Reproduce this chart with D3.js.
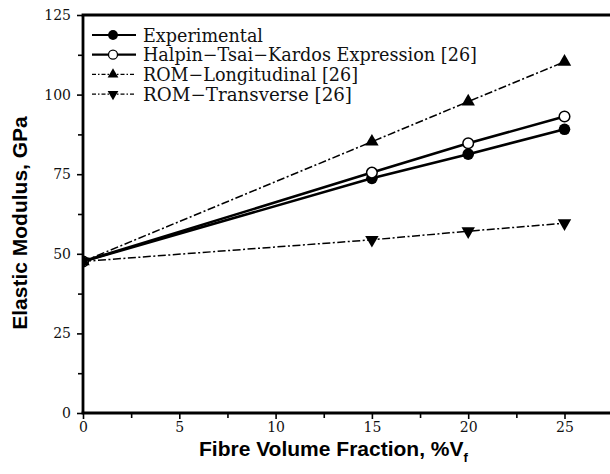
<!DOCTYPE html>
<html>
<head>
<meta charset="utf-8">
<script src="https://cdn.jsdelivr.net/npm/d3@7"></script>
<style>
  html, body { margin: 0; padding: 0; background: #fff; overflow: hidden; }
  svg { display: block; overflow: hidden; }
</style>
</head>
<body>
<svg id="chart" width="610" height="474"></svg>
<script>
// Fibre volume fraction (%Vf)
const fractions = [0, 15, 20, 25];
// Elastic modulus (GPa) for each series
const experimental = [47.6, 73.7, 81.3, 89.1];
const halpinTsai = [47.6, 75.5, 84.7, 93.1];
const romLongitudinal = [47.6, 85.2, 97.8, 110.3];
const romTransverse = [47.6, 54.4, 57.1, 59.6];

const seriesNames = [
  "Experimental",
  "Halpin\u2212Tsai\u2212Kardos Expression [26]",
  "ROM\u2212Longitudinal [26]",
  "ROM\u2212Transverse [26]"
];
const xTicks = [0, 5, 10, 15, 20, 25];
const xMinorTicks = [2.5, 7.5, 12.5, 17.5, 22.5];
const yTicks = [0, 25, 50, 75, 100, 125];
const yMinorTicks = [12.5, 37.5, 62.5, 87.5, 112.5];

const svg = d3.select("#chart");
const plotLeft = 83, plotTop = 15, plotBottom = 413, plotRight = 620;

const x = d3.scaleLinear().domain([0, 25]).range([plotLeft, 564.5]);
const y = d3.scaleLinear().domain([0, 125]).range([plotBottom, plotTop]);

const serif = "'DejaVu Serif', 'Liberation Serif', serif";
const sans = "'Liberation Sans', Arial, sans-serif";

// Markers at x = 0 are cut by the left axis
svg.append("defs").append("clipPath").attr("id", "plotClip")
  .append("rect").attr("x", plotLeft).attr("y", 0)
  .attr("width", 520).attr("height", plotBottom);

// Axes
const gx = svg.append("g").attr("transform", `translate(0,${plotBottom})`)
  .call(d3.axisBottom(x).tickValues(xTicks).tickSize(6).tickPadding(3)
    .tickFormat(d3.format("d")));
gx.select(".domain").remove();
const gxm = svg.append("g").attr("transform", `translate(0,${plotBottom})`)
  .call(d3.axisBottom(x).tickValues(xMinorTicks).tickSize(5).tickFormat(""));
gxm.select(".domain").remove();

const gy = svg.append("g").attr("transform", `translate(${plotLeft},0)`)
  .call(d3.axisLeft(y).tickValues(yTicks).tickSize(6).tickPadding(6)
    .tickFormat(d3.format("d")));
gy.select(".domain").remove();
const gym = svg.append("g").attr("transform", `translate(${plotLeft},0)`)
  .call(d3.axisLeft(y).tickValues(yMinorTicks).tickSize(5).tickFormat(""));
gym.select(".domain").remove();

svg.selectAll(".tick line").attr("stroke", "#000").attr("stroke-width", 1.6);
svg.selectAll(".tick text").attr("font-family", serif).attr("font-size", 14)
  .attr("fill", "#111");

// Frame: top edge, left axis, bottom axis
const frame = svg.append("g").attr("stroke", "#000").attr("stroke-width", 2.8);
frame.append("line").attr("x1", plotLeft - 1.4).attr("x2", plotRight)
  .attr("y1", plotTop).attr("y2", plotTop);
frame.append("line").attr("x1", plotLeft).attr("x2", plotLeft)
  .attr("y1", plotTop).attr("y2", plotBottom);
frame.append("line").attr("x1", plotLeft - 1.4).attr("x2", plotRight)
  .attr("y1", plotBottom).attr("y2", plotBottom);

// Series
const series = [
  { name: seriesNames[0], values: experimental, dash: null, width: 2.6, marker: "filled" },
  { name: seriesNames[1], values: halpinTsai, dash: null, width: 2.6, marker: "open" },
  { name: seriesNames[2], values: romLongitudinal, dash: "8,2.5,2,2.5", width: 1.5, marker: "up" },
  { name: seriesNames[3], values: romTransverse, dash: "8,2.5,2,2.5", width: 1.5, marker: "down" }
];

const line = d3.line().x(d => x(d[0])).y(d => y(d[1]));
const triangle = d3.symbol().type(d3.symbolTriangle).size(78)();

function drawMarker(g, kind, cx, cy) {
  if (kind === "filled") {
    g.append("circle").attr("cx", cx).attr("cy", cy).attr("r", 5.8).attr("fill", "#000");
  } else if (kind === "open") {
    g.append("circle").attr("cx", cx).attr("cy", cy).attr("r", 5.3)
      .attr("fill", "#fff").attr("stroke", "#000").attr("stroke-width", 1.5);
  } else {
    g.append("path").attr("d", triangle).attr("fill", "#000")
      .attr("transform", `translate(${cx},${cy}) rotate(${kind === "down" ? 180 : 0})`);
  }
}

const plot = svg.append("g").attr("clip-path", "url(#plotClip)");
series.forEach(s => {
  plot.append("path")
    .datum(fractions.map((f, i) => [f, s.values[i]]))
    .attr("d", line).attr("fill", "none").attr("stroke", "#000")
    .attr("stroke-width", s.width)
    .attr("stroke-dasharray", s.dash);
});
series.forEach(s => {
  const g = plot.append("g");
  fractions.forEach((f, i) => drawMarker(g, s.marker, x(f), y(s.values[i])));
});

// Legend
const legendWidths = [120, 334, 215, 209];
const legend = svg.append("g");
series.forEach((s, i) => {
  const ly = 35 + i * 19.7;
  legend.append("line").attr("x1", 92).attr("x2", 136).attr("y1", ly).attr("y2", ly)
    .attr("stroke", "#000").attr("stroke-width", s.dash ? 1.2 : 2.2)
    .attr("stroke-dasharray", s.dash ? "4,2,1.5,2" : null);
  if (s.marker === "filled") {
    legend.append("circle").attr("cx", 113).attr("cy", ly).attr("r", 4.9).attr("fill", "#000");
  } else if (s.marker === "open") {
    legend.append("circle").attr("cx", 113).attr("cy", ly).attr("r", 4.5)
      .attr("fill", "#fff").attr("stroke", "#000").attr("stroke-width", 1.3);
  } else {
    legend.append("path").attr("d", d3.symbol().type(d3.symbolTriangle).size(50)())
      .attr("fill", "#000")
      .attr("transform", `translate(113,${ly}) rotate(${s.marker === "down" ? 180 : 0})`);
  }
  legend.append("text").attr("x", 143).attr("y", ly + 6.5)
    .attr("font-family", serif).attr("font-size", 18).attr("fill", "#111")
    .attr("textLength", legendWidths[i]).attr("lengthAdjust", "spacingAndGlyphs")
    .text(s.name);
});

// Axis titles
svg.append("text")
  .attr("transform", `translate(27,223) rotate(-90)`)
  .attr("text-anchor", "middle")
  .attr("font-family", sans).attr("font-weight", "bold").attr("font-size", 21)
  .text("Elastic Modulus, GPa");

const xt = svg.append("text")
  .attr("x", 199).attr("y", 456)
  .attr("font-family", sans).attr("font-weight", "bold").attr("font-size", 21);
xt.append("tspan").text("Fibre Volume Fraction, %V");
xt.append("tspan").attr("dy", 6).attr("font-size", 13).text("f");
</script>
</body>
</html>
